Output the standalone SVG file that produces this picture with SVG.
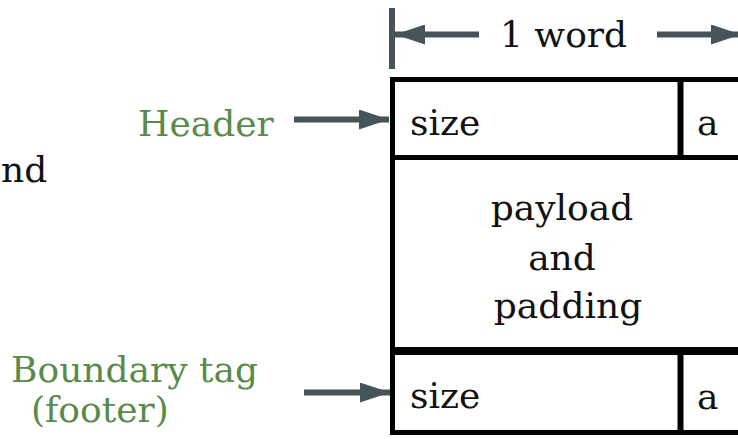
<svg xmlns="http://www.w3.org/2000/svg" width="738" height="439" viewBox="0 0 738 439">
  <style>
    text { font-family: 'DejaVu Serif', 'Liberation Serif', serif; font-size: 36px; fill: #111; }
    .g { fill: #5a8a4a; }
    .box { fill: none; stroke: #000; stroke-width: 5; }
    .conn { stroke: #465559; stroke-width: 6; fill: none; }
    .head { fill: #465559; }
  </style>
  <defs>
    <marker id="arr" viewBox="0 0 30 20" refX="30" refY="10" markerWidth="30" markerHeight="20" markerUnits="userSpaceOnUse" orient="auto">
      <path class="head" d="M0,0 L30,10 L0,20 Z"/>
    </marker>
  </defs>

  <rect width="738" height="439" fill="#fff"/>

  <!-- trailing fragment of a neighbouring label -->
  <text x="1" y="182">nd</text>

  <!-- word-width dimension line -->
  <g id="word-width">
    <rect x="389" y="8" width="6" height="61" fill="#465559"/>
    <text x="500" y="47">1 word</text>
  </g>

  <!-- block: header, payload, footer -->
  <g id="header">
    <rect class="box" x="392.5" y="79.5" width="360" height="78"/>
    <line class="box" x1="680.5" y1="79.5" x2="680.5" y2="157.5" style="stroke-width:6"/>
    <text x="410" y="135">size</text>
    <text x="697" y="135">a</text>
  </g>

  <g id="payload">
    <line class="box" x1="392.5" y1="157.5" x2="392.5" y2="351"/>
    <text x="562" y="220" text-anchor="middle">payload</text>
    <text x="562" y="270" text-anchor="middle">and</text>
    <text x="568" y="318" text-anchor="middle">padding</text>
  </g>

  <g id="footer">
    <rect class="box" x="392.5" y="351" width="360" height="81.5"/>
    <line class="box" x1="392.5" y1="351" x2="752" y2="351" style="stroke-width:8"/>
    <line class="box" x1="680.5" y1="351" x2="680.5" y2="432.5" style="stroke-width:6"/>
    <text x="410" y="408">size</text>
    <text x="697" y="409">a</text>
  </g>

  <g id="header-label">
    <text class="g" x="138" y="136">Header</text>
  </g>

  <g id="footer-label">
    <text class="g" x="11" y="382">Boundary tag</text>
    <text class="g" x="31" y="422">(footer)</text>
  </g>

  <g id="connectors">
    <line class="conn" x1="479" y1="34.5" x2="395" y2="34.5" marker-end="url(#arr)"/>
    <line class="conn" x1="657" y1="34.5" x2="741" y2="34.5" marker-end="url(#arr)"/>
    <line class="conn" x1="294" y1="119.5" x2="389" y2="119.5" marker-end="url(#arr)"/>
    <line class="conn" x1="304" y1="392.5" x2="390" y2="392.5" marker-end="url(#arr)"/>
  </g>
</svg>
